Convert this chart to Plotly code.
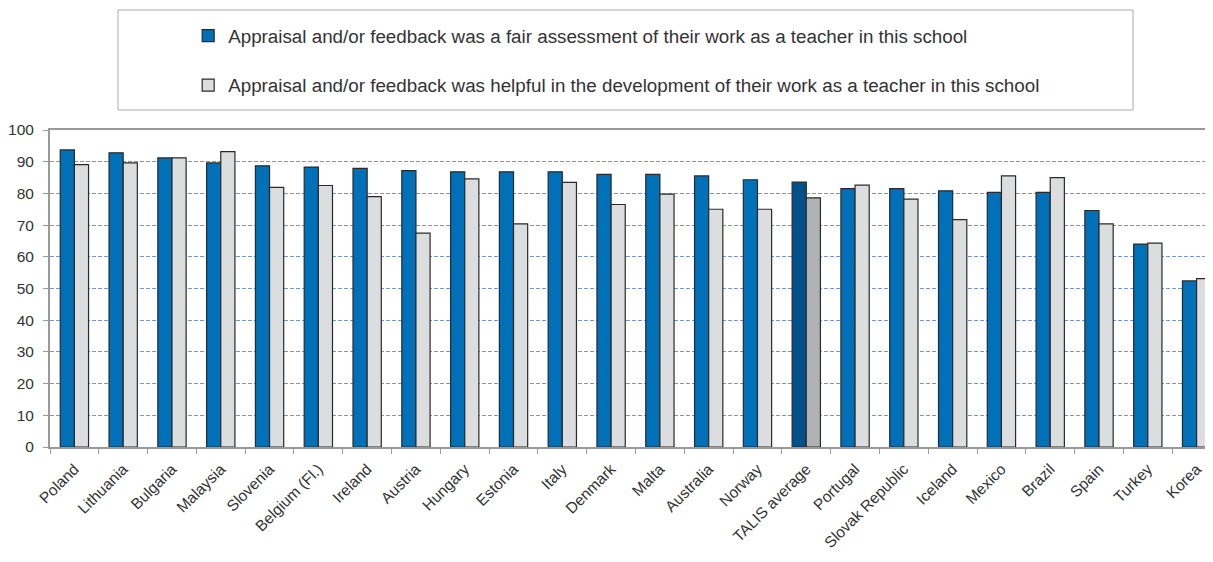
import plotly.graph_objects as go

countries = ["Poland", "Lithuania", "Bulgaria", "Malaysia", "Slovenia", "Belgium (Fl.)",
             "Ireland", "Austria", "Hungary", "Estonia", "Italy", "Denmark", "Malta",
             "Australia", "Norway", "TALIS average", "Portugal", "Slovak Republic",
             "Iceland", "Mexico", "Brazil", "Spain", "Turkey", "Korea"]
fair = [93.7, 92.8, 91.2, 89.6, 88.7, 88.3, 87.9, 87.2, 86.8, 86.8, 86.8, 86.0, 86.0,
        85.5, 84.3, 83.6, 81.5, 81.5, 80.8, 80.3, 80.3, 74.6, 64.0, 52.4]
helpful = [89.1, 89.6, 91.2, 93.2, 81.9, 82.5, 79.0, 67.5, 84.6, 70.4, 83.5, 76.5, 79.8,
           75.0, 75.0, 78.6, 82.6, 78.2, 71.7, 85.5, 85.0, 70.4, 64.3, 53.1]
names = ["Appraisal and/or feedback was a fair assessment of their work as a teacher in this school",
         "Appraisal and/or feedback was helpful in the development of their work as a teacher in this school"]
yticks = [0, 10, 20, 30, 40, 50, 60, 70, 80, 90, 100]

blue, blue_avg = "#0070b8", "#00508c"
gray, gray_avg = "#dcdddf", "#b1b2b5"
fair_colors = [blue_avg if c == "TALIS average" else blue for c in countries]
help_colors = [gray_avg if c == "TALIS average" else gray for c in countries]

fig = go.Figure()
fig.add_trace(go.Bar(x=countries, y=fair, name=names[0], legendgroup="a",
                     marker=dict(color=fair_colors, line=dict(color="#2a2a2a", width=1.2))))
fig.add_trace(go.Bar(x=countries, y=helpful, name=names[1], legendgroup="b",
                     marker=dict(color=help_colors, line=dict(color="#2a2a2a", width=1.2))))

font = "Liberation Sans, Arial, sans-serif"
# page body has an 8px margin; plot area on screen: x 50..1221, y 130..447
L, T, PW, PH = 42, 122, 1171, 317
fig.update_layout(
    width=1213, height=562,
    margin=dict(l=L, r=0, t=T, b=562 - T - PH, autoexpand=False),
    plot_bgcolor="white", paper_bgcolor="white",
    barmode="group", bargap=0.42, bargroupgap=0,
    font=dict(family=font, color="#333333"),
    showlegend=True,
    legend=dict(x=0.118, y=0.984, xanchor="left", yanchor="top", yref="container",
                font=dict(size=18.8, family=font, color="#333333"),
                tracegroupgap=22, bgcolor="rgba(0,0,0,0)", itemclick=False),
    xaxis=dict(tickangle=-45, tickfont=dict(size=15.5, color="#333333"),
               showline=True, linecolor="#999999", linewidth=2, mirror=True,
               ticks="outside", tickson="boundaries", ticklen=5, tickcolor="#999999",
               ticklabelstandoff=5, showgrid=False, automargin=False),
    yaxis=dict(range=[0, 100], tickvals=yticks, tickfont=dict(size=15.5, color="#333333"),
               showline=True, linecolor="#999999", linewidth=2,
               ticks="outside", ticklen=5, tickcolor="#999999", ticklabelstandoff=6,
               showgrid=True, gridcolor="#7696cf", griddash="4px,2px", gridwidth=1,
               zeroline=False, automargin=False),
)
fig.add_shape(type="rect", xref="paper", yref="paper",
              x0=(118 - 50) / PW, x1=(1133 - 50) / PW,
              y0=(447 - 110) / PH, y1=(447 - 10) / PH,
              line=dict(color="#aaaaaa", width=1), fillcolor="rgba(0,0,0,0)", layer="below")

fig.write_html("out.html")
